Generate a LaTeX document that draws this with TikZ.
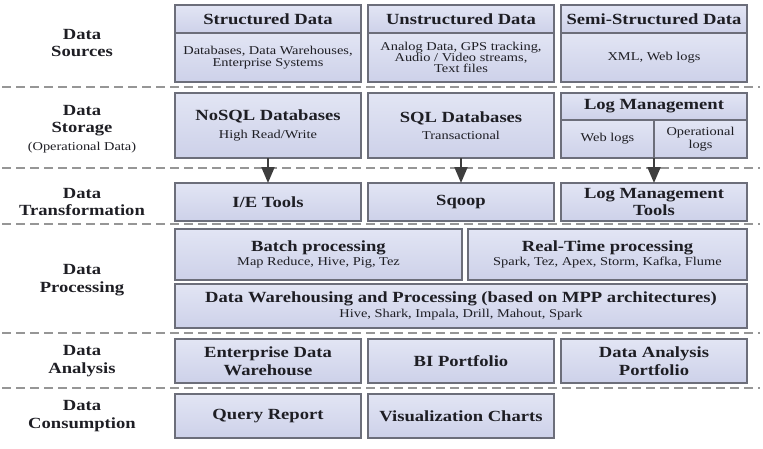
\documentclass[tikz,border=0pt]{standalone}
\usepackage{fontspec}
\setmainfont{Liberation Serif}[FakeStretch=1.2]
\usetikzlibrary{arrows.meta,positioning}
\definecolor{tiertop}{RGB}{226,229,244}
\definecolor{tierbot}{RGB}{205,209,233}
\definecolor{tierline}{RGB}{108,110,122}
\definecolor{laneline}{RGB}{150,150,150}
\definecolor{feedcol}{RGB}{62,62,62}
\definecolor{ink}{RGB}{30,30,36}
\newcommand{\tierhd}{\fontsize{15.5}{17.5}\selectfont\bfseries}
\newcommand{\tiersm}{\fontsize{12}{12.5}\selectfont\mdseries}
\tikzset{
  tier/.style={draw=tierline,line width=1.1pt,top color=tiertop,bottom color=tierbot,
    inner sep=2pt,outer sep=0pt,align=center,font=\tierhd,text=ink},
  wd/.style={minimum width=#1pt},
  ht/.style={minimum height=#1pt},
  lane/.style={draw=laneline,line width=1.3pt,dash pattern=on 9pt off 5pt},
  feed/.style={draw=feedcol,line width=2.2pt,-{Triangle[length=16pt,width=13pt]}},
  tierlabel/.style={align=center,font=\tierhd,text=ink},
}
\begin{document}
\begin{tikzpicture}[x=1pt,y=-1pt]
  \useasboundingbox (0,0) rectangle (763,448);
  % separators between the tiers
  \foreach \y in {87,168,224,333,388}
    \draw[lane] (2,\y) -- (760,\y);
  % tier names
  \node[tierlabel] (lsrc) at (82,43) {Data\\Sources};
  \node[tierlabel] (lsto) at (82,129) {Data\\Storage\\{\tiersm (Operational Data)}};
  \node[tierlabel] (ltrf) at (82,202) {Data\\Transformation};
  \node[tierlabel] (lprc) at (82,280) {Data\\Processing};
  \node[tierlabel] (lana) at (82,361) {Data\\Analysis};
  \node[tierlabel] (lcon) at (82,416) {Data\\Consumption};
  % sources
  \node[tier,wd=186,ht=28] (srch1) at (268,19) {Structured Data};
  \node[tier,wd=186,ht=49,font=\tiersm,below=0pt of srch1] (srcb1)
    {Databases, Data Warehouses,\\Enterprise Systems};
  \node[tier,wd=186,ht=28] (srch2) at (461,19) {Unstructured Data};
  \node[tier,wd=186,ht=49,font=\tiersm,below=0pt of srch2] (srcb2)
    {Analog Data, GPS tracking,\\[-1.5pt]Audio / Video streams,\\[-1.5pt]Text files};
  \node[tier,wd=186,ht=28] (srch3) at (654,19) {Semi-Structured Data};
  \node[tier,wd=186,ht=49,font=\tiersm,below=0pt of srch3] (srcb3) {XML, Web logs};
  % storage
  \node[tier,wd=186,ht=65] (sto1) at (268,125.5) {NoSQL Databases\\{\tiersm High Read/Write}};
  \node[tier,wd=186,ht=65] (sto2) at (461,125.5) {SQL Databases\\{\tiersm Transactional}};
  \node[tier,wd=186,ht=65] (sto3) at (654,125.5) {};
  \node[tier,wd=186,ht=27] (logh) at (654,106.5) {Log Management};
  \node[tier,wd=93,ht=38,font=\tiersm] (logw) at (607.5,139) {Web logs};
  \node[tier,wd=93,ht=38,font=\tiersm] (logo) at (700.5,139) {Operational\\logs};
  % transformation
  \node[tier,wd=186,ht=38] (trf1) at (268,202) {I/E Tools};
  \node[tier,wd=186,ht=38] (trf2) at (461,202) {Sqoop};
  \node[tier,wd=186,ht=38] (trf3) at (654,202) {Log Management\\Tools};
  \foreach \i in {1,2,3}
    \draw[feed] (sto\i.south) -- (trf\i.north);
  % processing
  \node[tier,wd=287,ht=51] (batch) at (318.5,254.5)
    {Batch processing\\[-3pt]{\tiersm Map Reduce, Hive, Pig, Tez}};
  \node[tier,wd=279,ht=51] (rtime) at (607.5,254.5)
    {Real-Time processing\\[-3pt]{\tiersm Spark, Tez, Apex, Storm, Kafka, Flume}};
  \node[tier,wd=572,ht=44] (dwh) at (461,306)
    {Data Warehousing and Processing (based on MPP architectures)\\[-2pt]{\tiersm Hive, Shark, Impala, Drill, Mahout, Spark}};
  % analysis and consumption
  \node[tier,wd=186,ht=44] (ana1) at (268,361) {Enterprise Data\\Warehouse};
  \node[tier,wd=186,ht=44] (ana2) at (461,361) {BI Portfolio};
  \node[tier,wd=186,ht=44] (ana3) at (654,361) {Data Analysis\\Portfolio};
  \node[tier,wd=186,ht=44] (con1) at (268,416) {Query Report};
  \node[tier,wd=186,ht=44] (con2) at (461,416) {Visualization Charts};
\end{tikzpicture}
\end{document}
